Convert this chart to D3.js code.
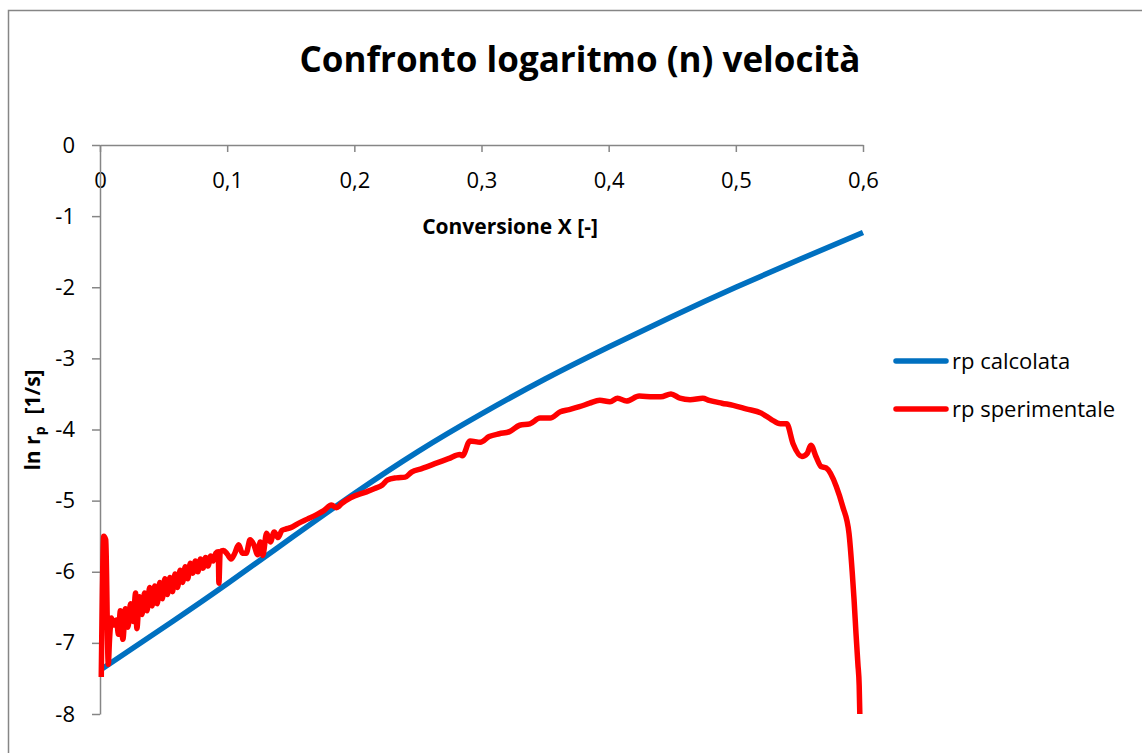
<!DOCTYPE html>
<html>
<head>
<meta charset="utf-8">
<script src="https://cdn.jsdelivr.net/npm/d3@7"></script>
<style>
  body { margin: 0; background: #fff; }
  svg { display: block; font-family: "Open Sans", "Noto Sans", sans-serif; }
</style>
</head>
<body>
<svg id="chart" width="1142" height="753"></svg>
<script>
// values
const xTicks = [0, 0.1, 0.2, 0.3, 0.4, 0.5, 0.6];
const yTicks = [0, -1, -2, -3, -4, -5, -6, -7, -8];

const calcX = [0.002, 0.057, 0.1, 0.15, 0.2, 0.25, 0.3, 0.35, 0.4, 0.45, 0.5, 0.55, 0.6];
const calcY = [-7.36, -6.70, -6.17, -5.53, -4.90, -4.31, -3.78, -3.29, -2.84, -2.41, -2.00, -1.61, -1.23];

const speX = [0.001, 0.003, 0.0045, 0.0065, 0.0075, 0.009, 0.011, 0.013, 0.0145, 0.016,
  0.018, 0.020, 0.022, 0.024, 0.026, 0.028, 0.029, 0.031, 0.033, 0.035,
  0.037, 0.039, 0.041, 0.043, 0.045, 0.047, 0.049, 0.051, 0.053, 0.055,
  0.057, 0.059, 0.061, 0.063, 0.065, 0.067, 0.069, 0.071, 0.073, 0.075,
  0.077, 0.079, 0.081, 0.083, 0.085, 0.087, 0.089, 0.091, 0.093, 0.0935,
  0.0945, 0.097, 0.100, 0.103, 0.106, 0.109, 0.112, 0.115, 0.118, 0.121,
  0.124, 0.126, 0.128, 0.131, 0.134, 0.137, 0.140, 0.143, 0.146, 0.150,
  0.156, 0.163, 0.170, 0.176, 0.182, 0.186, 0.190, 0.197, 0.209, 0.216,
  0.222, 0.226, 0.233, 0.240, 0.245, 0.253, 0.265, 0.274, 0.283, 0.285,
  0.291, 0.299, 0.306, 0.314, 0.322, 0.330, 0.338, 0.346, 0.354, 0.362,
  0.369, 0.377, 0.385, 0.393, 0.401, 0.407, 0.414, 0.424, 0.435, 0.441,
  0.449, 0.456, 0.464, 0.474, 0.479, 0.489, 0.498, 0.508, 0.520, 0.528,
  0.535, 0.540, 0.545, 0.552, 0.556, 0.559, 0.563, 0.567, 0.571, 0.579,
  0.584, 0.589, 0.5915, 0.593, 0.5945, 0.596, 0.597, 0.5975];
const speY = [-7.48, -5.50, -5.55, -7.30, -6.95, -6.65, -6.75, -6.68, -6.88, -6.55,
  -6.95, -6.52, -6.78, -6.45, -6.70, -6.30, -6.80, -6.35, -6.60, -6.30,
  -6.55, -6.22, -6.48, -6.20, -6.45, -6.15, -6.38, -6.10, -6.32, -6.08,
  -6.28, -6.03, -6.22, -5.98, -6.15, -5.93, -6.10, -5.88, -6.02, -5.85,
  -6.00, -5.82, -5.95, -5.80, -5.92, -5.78, -5.85, -5.74, -5.72, -6.16,
  -5.72, -5.70, -5.75, -5.82, -5.74, -5.62, -5.74, -5.74, -5.55, -5.62,
  -5.76, -5.58, -5.77, -5.46, -5.58, -5.44, -5.52, -5.42, -5.40, -5.38,
  -5.32, -5.26, -5.20, -5.14, -5.06, -5.10, -5.04, -4.96, -4.88, -4.83,
  -4.78, -4.71, -4.68, -4.67, -4.60, -4.55, -4.47, -4.41, -4.35, -4.37,
  -4.16, -4.18, -4.10, -4.06, -4.03, -3.94, -3.92, -3.84, -3.84, -3.75,
  -3.72, -3.68, -3.63, -3.59, -3.61, -3.56, -3.60, -3.53, -3.54, -3.54,
  -3.50, -3.56, -3.58, -3.56, -3.59, -3.63, -3.66, -3.71, -3.77, -3.86,
  -3.92, -3.92, -4.20, -4.38, -4.34, -4.22, -4.38, -4.52, -4.54, -4.80,
  -5.08, -5.46, -6.00, -6.40, -6.87, -7.30, -7.60, -8.0];

const seriesNames = ["rp calcolata", "rp sperimentale"];
const seriesColors = ["#0070C0", "#FF0000"];

const svg = d3.select('#chart');
const axisColor = '#868686';

// outer chart frame
svg.append('rect')
    .attr('x', 8.5).attr('y', 10.5)
    .attr('width', 1200).attr('height', 800)
    .attr('fill', 'none')
    .attr('stroke', axisColor)
    .attr('stroke-width', 1.5);

const xScale = d3.scaleLinear().domain([0, 0.6]).range([100, 863]);
const yScale = d3.scaleLinear().domain([0, -8]).range([145, 714]);

// title
svg.append('text')
    .attr('x', 580).attr('y', 72)
    .attr('text-anchor', 'middle')
    .attr('font-size', '35px')
    .attr('font-weight', 'bold')
    .text('Confronto logaritmo (n) velocità');

// x axis on top (at y = 0)
const xAxis = svg.append('g')
    .attr('transform', 'translate(0,' + yScale(0) + ')')
    .call(d3.axisBottom(xScale).tickValues(xTicks).tickSize(7).tickSizeOuter(0)
        .tickFormat(d => String(d).replace('.', ',')));
xAxis.select('.domain').attr('stroke', axisColor).attr('stroke-width', 1.5);
xAxis.selectAll('.tick line').attr('stroke', axisColor).attr('stroke-width', 1.5);
xAxis.selectAll('.tick text')
    .attr('y', 35)
    .attr('dy', '0.35em')
    .attr('fill', '#000')
    .attr('font-size', '22px')
    .attr('font-family', '"Open Sans", sans-serif');

// y axis
const yAxis = svg.append('g')
    .attr('transform', 'translate(' + xScale(0) + ',0)')
    .call(d3.axisLeft(yScale).tickValues(yTicks).tickSize(8).tickSizeOuter(0)
        .tickFormat(d => String(d)));
yAxis.select('.domain').attr('stroke', axisColor).attr('stroke-width', 1.5);
yAxis.selectAll('.tick line').attr('stroke', axisColor).attr('stroke-width', 1.5);
yAxis.selectAll('.tick text')
    .attr('x', -25)
    .attr('fill', '#000')
    .attr('font-size', '22px')
    .attr('font-family', '"Open Sans", sans-serif');

// axis titles
svg.append('text')
    .attr('x', 510).attr('y', 234)
    .attr('text-anchor', 'middle')
    .attr('font-size', '21px')
    .attr('font-weight', 'bold')
    .text('Conversione X [-]');

const yTitle = svg.append('text')
    .attr('transform', 'translate(40,420) rotate(-90)')
    .attr('text-anchor', 'middle')
    .attr('font-size', '21px')
    .attr('font-weight', 'bold');
yTitle.append('tspan').text('ln r');
yTitle.append('tspan').attr('font-size', '14px').attr('dy', 5).text('p');
yTitle.append('tspan').attr('dy', -5).attr('dx', 12).text('[1/s]');

// series
const calcLine = d3.line()
    .x(d => xScale(d[0]))
    .y(d => yScale(d[1]))
    .curve(d3.curveNatural);

const speLine = d3.line()
    .x(d => xScale(d[0]))
    .y(d => yScale(d[1]))
    .curve(d3.curveMonotoneX);

const calcData = calcX.map((x, i) => [x, calcY[i]]);
const speData = speX.map((x, i) => [x, speY[i]]);

svg.append('path')
    .datum(calcData)
    .attr('d', calcLine)
    .attr('fill', 'none')
    .attr('stroke', seriesColors[0])
    .attr('stroke-width', 5.5);

svg.append('path')
    .datum(speData)
    .attr('d', speLine)
    .attr('fill', 'none')
    .attr('stroke', seriesColors[1])
    .attr('stroke-width', 5.5)
    .attr('stroke-linejoin', 'round');

// legend
const legend = svg.append('g').attr('transform', 'translate(894,361)');
seriesNames.forEach((name, i) => {
    const row = legend.append('g').attr('transform', 'translate(0,' + (i * 48) + ')');
    row.append('line')
        .attr('x1', 2).attr('x2', 52)
        .attr('stroke', seriesColors[i])
        .attr('stroke-width', 5.5)
        .attr('stroke-linecap', 'round');
    row.append('text')
        .attr('x', 58).attr('y', 0)
        .attr('dy', '0.35em')
        .attr('font-size', '22px')
        .text(name);
});
</script>
</body>
</html>
